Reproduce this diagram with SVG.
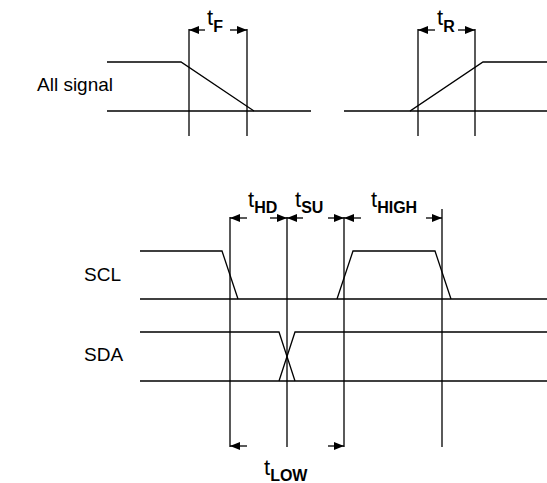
<svg xmlns="http://www.w3.org/2000/svg" width="547" height="483" viewBox="0 0 547 483">
<defs>
<marker id="ah" viewBox="0 0 10 8" refX="10" refY="4" markerWidth="10" markerHeight="8" markerUnits="userSpaceOnUse" orient="auto">
<path d="M0,0 L10,4 L0,8 Z" fill="#000"/>
</marker>
</defs>
<style>
.w{fill:none;stroke:#000;stroke-width:1.3}
.g{fill:none;stroke:#000;stroke-width:1.3}
.a{fill:none;stroke:#000;stroke-width:1.3;marker-end:url(#ah)}
.lbl{font-family:"Liberation Sans",Arial,sans-serif;font-size:19px;fill:#000}
.t{font-family:"Liberation Sans",Arial,sans-serif;font-size:22px;fill:#000}
.s{font-family:"Liberation Sans",Arial,sans-serif;font-size:16px;font-weight:bold;fill:#000}
</style>
<rect width="547" height="483" fill="#fff"/>
<g id="all-signal">
<text class="lbl" x="37" y="91">All signal</text>
<polyline class="w" points="107,62 181,62 254,111"/>
<line class="g" x1="107" y1="111" x2="311" y2="111"/>
<polyline class="w" points="344,111 410,111 483,62 547,62"/>
<line class="g" x1="410" y1="111" x2="547" y2="111"/>
</g>
<g id="scl">
<text class="lbl" x="84" y="281">SCL</text>
<polyline class="w" points="140,251 222,251 238,299"/>
<line class="g" x1="140" y1="299" x2="547" y2="299"/>
<polyline class="w" points="337,299 353,251 435,251 451,299"/>
</g>
<g id="sda">
<text class="lbl" x="84" y="361">SDA</text>
<polyline class="w" points="140,332 279,332 295,381"/>
<polyline class="w" points="279,381 295,332 547,332"/>
<line class="g" x1="140" y1="381" x2="547" y2="381"/>
</g>
<g id="connectors">
<line class="w" x1="189" y1="29" x2="189" y2="136"/>
<line class="w" x1="247" y1="29" x2="247" y2="136"/>
<line class="w" x1="418" y1="29" x2="418" y2="136"/>
<line class="w" x1="475" y1="29" x2="475" y2="136"/>
<line class="a" x1="205" y1="30" x2="189" y2="30"/>
<line class="a" x1="230" y1="30" x2="247" y2="30"/>
<line class="a" x1="435" y1="30" x2="418" y2="30"/>
<line class="a" x1="458" y1="30" x2="475" y2="30"/>
<line class="w" x1="230" y1="217" x2="230" y2="447"/>
<line class="w" x1="287" y1="217" x2="287" y2="447"/>
<line class="w" x1="344" y1="217" x2="344" y2="447"/>
<line class="w" x1="442" y1="209" x2="442" y2="447"/>
<line class="a" x1="247" y1="218" x2="230" y2="218"/>
<line class="a" x1="270" y1="218" x2="287" y2="218"/>
<line class="a" x1="303" y1="218" x2="287" y2="218"/>
<line class="a" x1="328" y1="218" x2="344" y2="218"/>
<line class="a" x1="361" y1="218" x2="344" y2="218"/>
<line class="a" x1="426" y1="218" x2="442" y2="218"/>
<line class="a" x1="247" y1="446" x2="230" y2="446"/>
<line class="a" x1="328" y1="446" x2="344" y2="446"/>
</g>
<g id="labels">
<text x="207" y="25"><tspan class="t">t</tspan><tspan class="s" dy="7">F</tspan></text>
<text x="437" y="25"><tspan class="t">t</tspan><tspan class="s" dy="7">R</tspan></text>
<text x="248" y="207"><tspan class="t">t</tspan><tspan class="s" dy="6">HD</tspan></text>
<text x="295" y="207"><tspan class="t">t</tspan><tspan class="s" dy="6">SU</tspan></text>
<text x="371" y="207"><tspan class="t">t</tspan><tspan class="s" dy="6">HIGH</tspan></text>
<text x="264" y="475"><tspan class="t">t</tspan><tspan class="s" dy="6">LOW</tspan></text>
</g>
</svg>
